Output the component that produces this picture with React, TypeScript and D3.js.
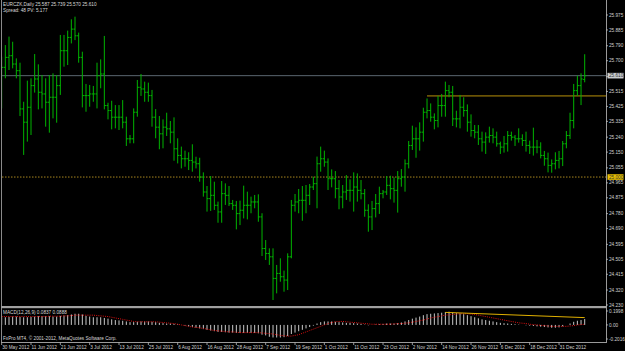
import React from "react";
import * as d3 from "d3";

const W = 625;
const H = 351;

const dateLabels = ["30 May 2012","11 Jun 2012","21 Jun 2012","3 Jul 2012","13 Jul 2012","25 Jul 2012","6 Aug 2012","16 Aug 2012","28 Aug 2012","7 Sep 2012","19 Sep 2012","1 Oct 2012","11 Oct 2012","23 Oct 2012","2 Nov 2012","14 Nov 2012","26 Nov 2012","6 Dec 2012","18 Dec 2012","31 Dec 2012"];
const priceTicks = ["25.975","25.885","25.790","25.700","25.605","25.515","25.425","25.335","25.240","25.150","25.055","24.965","24.875","24.780","24.690","24.595","24.505","24.415","24.320","24.230"];
const macdTicks = ["0.1998","0.00","-0.2016"];

const highs = [25.724,25.794,25.845,25.814,25.714,25.688,25.453,25.580,25.594,25.740,
25.678,25.614,25.594,25.614,25.624,25.614,25.855,25.855,25.881,25.949,
25.965,25.869,25.754,25.560,25.554,25.548,25.688,25.708,25.849,25.447,
25.459,25.433,25.433,25.463,25.363,25.253,25.413,25.584,25.620,25.574,
25.568,25.524,25.409,25.367,25.347,25.387,25.337,25.359,25.233,25.183,
25.159,25.149,25.197,25.122,25.116,25.028,24.946,25.006,24.972,24.852,
24.976,24.962,24.946,24.862,24.856,24.858,24.948,24.912,24.882,24.892,
24.896,24.782,24.621,24.571,24.571,24.471,24.511,24.437,24.541,24.862,
24.898,24.928,24.946,24.952,24.958,25.002,25.123,25.183,25.159,25.112,
25.046,25.036,24.982,24.952,25.012,24.986,25.028,25.022,24.982,24.928,
24.836,24.856,24.898,24.942,24.922,25.006,25.008,24.998,25.036,25.048,
25.106,25.217,25.309,25.299,25.329,25.417,25.473,25.443,25.383,25.488,
25.500,25.574,25.554,25.548,25.399,25.494,25.480,25.437,25.377,25.313,
25.313,25.273,25.269,25.303,25.293,25.273,25.213,25.247,25.277,25.273,
25.253,25.293,25.257,25.273,25.219,25.297,25.223,25.209,25.157,25.147,
25.106,25.149,25.157,25.217,25.277,25.387,25.560,25.610,25.624,25.739];

const lows = [25.413,25.594,25.644,25.654,25.594,25.367,25.133,25.213,25.253,25.508,
25.407,25.413,25.303,25.267,25.353,25.327,25.494,25.664,25.674,25.804,
25.824,25.688,25.419,25.393,25.423,25.453,25.413,25.534,25.407,25.347,
25.287,25.293,25.283,25.293,25.187,25.203,25.203,25.363,25.488,25.453,
25.453,25.303,25.233,25.167,25.173,25.247,25.203,25.098,25.082,25.052,
25.062,25.042,25.032,25.052,24.972,24.882,24.792,24.796,24.802,24.725,
24.725,24.832,24.826,24.802,24.685,24.711,24.751,24.745,24.782,24.812,
24.731,24.525,24.501,24.471,24.260,24.300,24.370,24.310,24.320,24.511,
24.792,24.782,24.737,24.782,24.832,24.922,24.812,25.032,25.062,24.922,
24.938,24.872,24.806,24.812,24.862,24.852,24.792,24.852,24.866,24.761,
24.671,24.681,24.757,24.778,24.872,24.892,24.866,24.846,24.786,24.942,
24.912,25.052,25.163,25.116,25.159,25.213,25.353,25.333,25.287,25.299,
25.363,25.363,25.480,25.307,25.299,25.293,25.363,25.273,25.243,25.233,
25.193,25.153,25.139,25.207,25.203,25.183,25.139,25.147,25.153,25.219,
25.187,25.207,25.187,25.153,25.139,25.129,25.143,25.112,25.068,25.028,
25.026,25.046,25.052,25.066,25.173,25.229,25.293,25.488,25.433,25.570];

const opens = [25.55,25.66,25.72,25.73,25.68,25.64,25.41,25.33,25.42,25.55,
25.59,25.51,25.50,25.45,25.48,25.48,25.55,25.76,25.76,25.84,
25.89,25.85,25.72,25.49,25.49,25.50,25.50,25.61,25.62,25.43,
25.40,25.36,25.36,25.36,25.33,25.23,25.23,25.39,25.54,25.53,
25.51,25.49,25.36,25.30,25.26,25.30,25.29,25.27,25.17,25.13,
25.11,25.11,25.10,25.09,25.08,25.00,24.91,24.87,24.89,24.83,
24.79,24.90,24.89,24.84,24.83,24.78,24.80,24.83,24.83,24.85,
24.85,24.76,24.57,24.54,24.52,24.39,24.42,24.40,24.38,24.52,
24.83,24.85,24.86,24.86,24.89,24.94,24.96,25.08,25.11,25.09,
24.99,24.99,24.93,24.88,24.91,24.92,24.92,24.94,24.92,24.90,
24.80,24.76,24.81,24.84,24.90,24.91,24.95,24.93,24.92,24.99,
25.00,25.08,25.19,25.23,25.23,25.27,25.39,25.40,25.36,25.34,
25.43,25.43,25.52,25.51,25.35,25.35,25.42,25.40,25.33,25.28,
25.27,25.23,25.21,25.24,25.25,25.24,25.20,25.18,25.20,25.25,
25.24,25.23,25.23,25.22,25.19,25.18,25.18,25.18,25.13,25.11,
25.07,25.08,25.10,25.11,25.20,25.25,25.34,25.52,25.55,25.587];

const closes = [25.66,25.72,25.73,25.68,25.64,25.41,25.33,25.42,25.55,25.59,
25.51,25.50,25.45,25.48,25.48,25.55,25.76,25.76,25.84,25.89,
25.85,25.72,25.49,25.49,25.50,25.50,25.61,25.62,25.43,25.40,
25.36,25.36,25.36,25.33,25.23,25.23,25.39,25.54,25.53,25.51,
25.49,25.36,25.30,25.26,25.30,25.29,25.27,25.17,25.13,25.11,
25.11,25.10,25.09,25.08,25.00,24.91,24.87,24.89,24.83,24.79,
24.90,24.89,24.84,24.83,24.78,24.80,24.83,24.83,24.85,24.85,
24.76,24.57,24.54,24.52,24.39,24.42,24.40,24.38,24.52,24.83,
24.85,24.86,24.86,24.89,24.94,24.96,25.08,25.11,25.09,24.99,
24.99,24.93,24.88,24.91,24.92,24.92,24.94,24.92,24.90,24.80,
24.76,24.81,24.84,24.90,24.91,24.95,24.93,24.92,24.99,25.00,
25.08,25.19,25.23,25.23,25.27,25.39,25.40,25.36,25.34,25.43,
25.43,25.52,25.51,25.35,25.35,25.42,25.40,25.33,25.28,25.27,
25.23,25.21,25.24,25.25,25.24,25.20,25.18,25.20,25.25,25.24,
25.23,25.23,25.22,25.19,25.18,25.18,25.18,25.13,25.11,25.07,
25.08,25.10,25.11,25.20,25.25,25.34,25.52,25.55,25.59,25.610];

const macdMain = [0.11,0.11,0.115,0.12,0.12,0.115,0.11,0.11,0.115,
0.12,0.125,0.125,0.125,0.125,0.12,0.12,0.13,0.135,0.14,0.15,0.16,0.16,0.15,
0.13,0.12,0.11,0.11,0.11,
0.10,0.09,0.08,0.07,0.065,0.06,0.05,
0.04,0.04,0.045,0.05,0.05,0.05,0.045,0.04,0.03,0.025,0.02,
0.02,0.015,0.01,0.0,-0.01,-0.02,-0.03,-0.04,-0.05,
-0.06,-0.07,-0.08,-0.09,-0.10,-0.10,-0.105,-0.11,-0.11,-0.115,-0.115,-0.115,-0.115,-0.115,-0.115,-0.12,-0.14,-0.15,-0.17,-0.18,-0.18,-0.18,-0.175,-0.16,-0.13,
-0.11,-0.09,-0.07,-0.05,-0.03,-0.01,0.02,0.04,
0.05,0.05,0.05,0.045,0.04,0.035,0.03,0.03,0.025,
0.02,0.015,0.005,-0.005,0.0,0.005,0.01,0.015,0.02,0.02,0.02,0.025,
0.035,0.05,0.07,0.09,0.105,0.12,0.14,0.155,0.16,0.165,0.17,0.175,
0.185,0.19,0.18,0.17,0.165,0.155,0.14,0.125,0.11,0.095,
0.08,0.07,0.06,0.05,0.04,0.03,0.025,0.02,0.015,0.01,
0.005,0.0,-0.005,-0.01,-0.015,-0.02,-0.025,-0.03,-0.035,-0.04,-0.04,-0.035,
-0.02,0.0,0.02,0.045,0.06,0.07,0.084];

const macdSignal = [0.12,0.12,0.12,0.12,0.12,0.12,0.12,0.12,0.12,
0.12,0.12,0.12,0.12,0.125,0.125,0.125,0.125,0.13,0.13,0.135,0.14,0.14,0.14,
0.14,0.14,0.14,0.135,0.13,
0.125,0.12,0.11,0.1,0.09,0.08,0.07,
0.06,0.05,0.045,0.045,0.045,0.045,0.045,0.045,0.04,0.035,0.03,
0.025,0.02,0.01,0.0,-0.01,-0.02,-0.03,-0.035,-0.04,
-0.05,-0.06,-0.07,-0.08,-0.085,-0.09,-0.095,-0.1,-0.1,-0.105,-0.11,-0.11,-0.11,-0.11,-0.11,-0.11,-0.115,-0.12,-0.125,-0.13,-0.14,-0.15,-0.155,-0.16,-0.16,
-0.15,-0.14,-0.12,-0.1,-0.08,-0.06,-0.04,-0.02,
0.0,0.02,0.035,0.045,0.05,0.05,0.045,0.04,0.035,
0.03,0.025,0.02,0.015,0.01,0.01,0.01,0.01,0.01,0.012,0.015,0.018,
0.02,0.025,0.03,0.04,0.05,0.06,0.07,0.085,0.1,0.11,0.12,0.13,
0.14,0.145,0.15,0.155,0.16,0.16,0.16,0.155,0.15,0.14,
0.13,0.12,0.11,0.1,0.09,0.08,0.07,0.06,0.05,0.04,
0.03,0.025,0.02,0.01,0.005,0.0,-0.005,-0.01,-0.015,-0.02,-0.02,-0.02,
-0.02,-0.02,-0.015,-0.01,0.0,0.005,0.01];

const bidPrice = 25.610;
const alertPrice = 25.000;
const resistancePrice = 25.488;
const resistanceStart = 116;
const macdTrendStart = { bar: 121, value: 0.18 };
const macdTrendEnd = { bar: 159, value: 0.105 };

const FONT = "'Liberation Sans', Arial, sans-serif";
const FS = 4.7;

export default function App() {
  const n = Math.min(highs.length, lows.length, opens.length, closes.length);
  const idx = d3.range(n);
  const plotRight = 606;
  const x = d3.scaleLinear().domain([0, 159]).range([1.67, 584.7]);
  const y = d3.scaleLinear().domain([24.230, 25.975]).range([305, 15]);
  const my = d3.scaleLinear().domain([-0.2016, 0.1998]).range([339, 311]);
  const zeroY = my(0);

  const signalLine = d3
    .line<number>()
    .x((_, i) => x(i))
    .y((d) => my(d))(macdSignal.slice(0, n)) || "";

  const barColor = "#00b400";

  return (
    <svg
      width={W}
      height={H}
      style={{ position: "absolute", left: 0, top: 0, background: "#000" }}
      fontFamily={FONT}
    >
      <rect x={0} y={0} width={W} height={H} fill="#000" />
      {/* panels clip */}
      <defs>
        <clipPath id="mainClip">
          <rect x={2} y={0} width={plotRight - 2} height={305} />
        </clipPath>
        <clipPath id="macdClip">
          <rect x={2} y={309} width={plotRight - 2} height={33} />
        </clipPath>
      </defs>

      {/* horizontal lines */}
      <line x1={2} x2={plotRight} y1={y(bidPrice)} y2={y(bidPrice)} stroke="#5b6770" strokeWidth={1} />
      <line x1={2} x2={plotRight} y1={y(alertPrice)} y2={y(alertPrice)} stroke="#a8861e" strokeWidth={1} strokeDasharray="1.5,1.5" />
      <line x1={x(resistanceStart)} x2={plotRight} y1={y(resistancePrice)} y2={y(resistancePrice)} stroke="#b8900a" strokeWidth={1} />

      {/* OHLC bars */}
      <g clipPath="url(#mainClip)">
        {idx.map((i) => {
          const cx = x(i);
          return (
            <g key={i} stroke={barColor} strokeWidth={1}>
              <line x1={cx} x2={cx} y1={y(highs[i])} y2={y(lows[i])} />
              <line x1={cx - 1.6} x2={cx} y1={y(opens[i])} y2={y(opens[i])} />
              <line x1={cx} x2={cx + 1.6} y1={y(closes[i])} y2={y(closes[i])} />
            </g>
          );
        })}
      </g>

      {/* MACD */}
      <g clipPath="url(#macdClip)">
        {idx.map((i) => (
          <line
            key={i}
            x1={x(i)}
            x2={x(i)}
            y1={zeroY}
            y2={my(macdMain[i])}
            stroke="#c8c8c8"
            strokeWidth={1}
          />
        ))}
        <path d={signalLine} fill="none" stroke="#e01010" strokeWidth={1} strokeDasharray="1,1.2" />
        <line
          x1={x(macdTrendStart.bar)}
          x2={x(macdTrendEnd.bar)}
          y1={my(macdTrendStart.value)}
          y2={my(macdTrendEnd.value)}
          stroke="#e0b000"
          strokeWidth={1}
        />
      </g>

      {/* frame */}
      <line x1={1.5} x2={1.5} y1={0} y2={342} stroke="#8a8a8a" strokeWidth={1} />
      <line x1={plotRight + 0.5} x2={plotRight + 0.5} y1={0} y2={342.5} stroke="#9a9a9a" strokeWidth={1} />
      <rect x={1} y={306} width={plotRight} height={2.2} fill="#a0a0a0" />
      <line x1={1} x2={plotRight + 1} y1={342.5} y2={342.5} stroke="#9a9a9a" strokeWidth={1} />

      {/* price axis labels */}
      {priceTicks.map((t) => {
        const yy = y(+t);
        return (
          <g key={t}>
            <line x1={plotRight} x2={plotRight + 2} y1={yy} y2={yy} stroke="#bbb" strokeWidth={0.8} />
            <text x={609} y={yy + 1.6} fontSize={FS} fill="#d0d0d0">{t}</text>
          </g>
        );
      })}
      {/* bid label */}
      <rect x={607.5} y={y(bidPrice) - 2.8} width={16} height={5.6} fill="#c8ccd0" />
      <text x={609} y={y(bidPrice) + 1.6} fontSize={FS} fill="#303030">{bidPrice.toFixed(3)}</text>
      {/* alert label */}
      <rect x={607.5} y={y(alertPrice) - 2.8} width={16} height={5.6} fill="#e8c000" />
      <text x={609} y={y(alertPrice) + 1.6} fontSize={FS} fill="#303030">{alertPrice.toFixed(3)}</text>

      {/* macd axis labels */}
      {macdTicks.map((t) => {
        const yy = my(+t);
        return (
          <g key={t}>
            <line x1={plotRight} x2={plotRight + 2} y1={yy} y2={yy} stroke="#bbb" strokeWidth={0.8} />
            <text x={609} y={yy + 1.6} fontSize={FS} fill="#d0d0d0">{t}</text>
          </g>
        );
      })}

      {/* date labels */}
      {dateLabels.map((d, k) => {
        const xx = x(k * 8);
        return (
          <g key={d}>
            <line x1={xx} x2={xx} y1={342.5} y2={345} stroke="#bbb" strokeWidth={0.8} />
            <text x={xx + 0.5} y={348.5} fontSize={FS} fill="#d0d0d0">{d}</text>
          </g>
        );
      })}

      {/* titles */}
      <text x={3} y={6} fontSize={FS} fill="#d8d8d8">EURCZK,Daily  25.587 25.739 25.570 25.610</text>
      <text x={3} y={11.5} fontSize={FS} fill="#d8d8d8">Spread: 48   PV: 5.177</text>
      <text x={3} y={314} fontSize={FS} fill="#d8d8d8">MACD(12,26,9) 0.0837 0.0888</text>
      <text x={3} y={339.5} fontSize={FS} fill="#d8d8d8">FxPro MT4, © 2001-2012, MetaQuotes Software Corp.</text>
    </svg>
  );
}
